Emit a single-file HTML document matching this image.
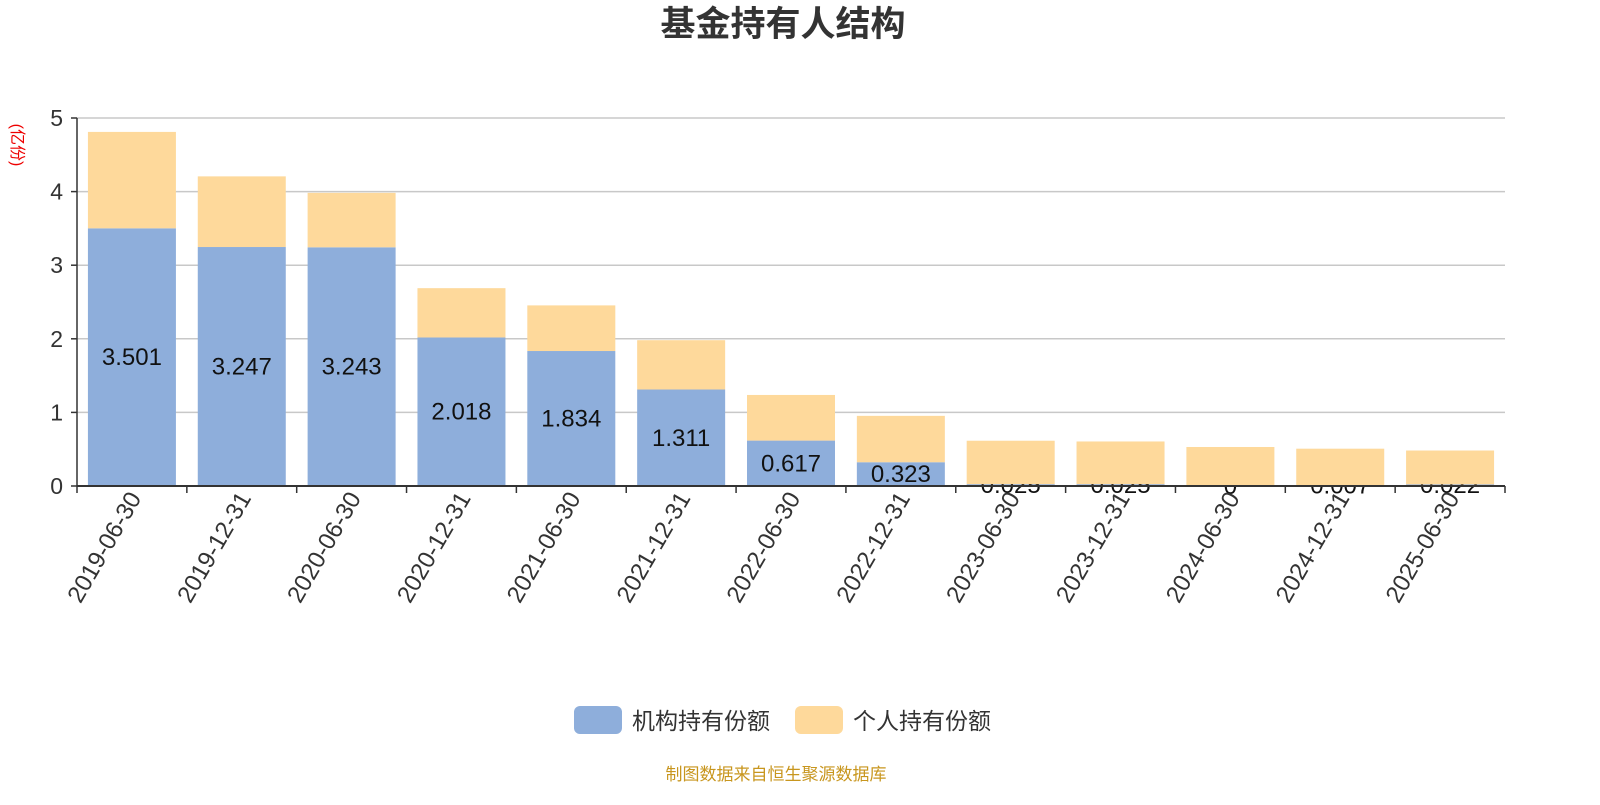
<!DOCTYPE html>
<html><head><meta charset="utf-8"><style>
body{margin:0;background:#fff;}
svg text{font-family:"Liberation Sans","Noto Sans CJK SC",sans-serif;}
</style></head><body>
<svg id="c" width="1600" height="800" xmlns="http://www.w3.org/2000/svg">
<text x="783" y="36" text-anchor="middle" font-size="35" font-weight="bold" fill="#333">基金持有人结构</text>
<text transform="translate(12,145) rotate(90)" text-anchor="middle" font-size="16" fill="#e00">(亿份)</text>
<g id="grid"></g><g id="inst"></g><g id="lbl"></g><g id="indiv"></g><g id="axes"></g>
<g>
<rect x="574" y="706" width="48" height="28" rx="6" fill="#8eaedb"/>
<text x="632" y="729" font-size="23" fill="#333">机构持有份额</text>
<rect x="795" y="706" width="48" height="28" rx="6" fill="#fed99b"/>
<text x="853" y="729" font-size="23" fill="#333">个人持有份额</text>
</g>
<text x="776" y="780" text-anchor="middle" font-size="17" fill="#c8961e">制图数据来自恒生聚源数据库</text>
</svg>
<script>
const categories=["2019-06-30","2019-12-31","2020-06-30","2020-12-31","2021-06-30","2021-12-31","2022-06-30","2022-12-31","2023-06-30","2023-12-31","2024-06-30","2024-12-31","2025-06-30"];
const institution=[3.501,3.247,3.243,2.018,1.834,1.311,0.617,0.323,0.025,0.025,0,0.007,0.022];
const individual=[1.31,0.96,0.74,0.67,0.62,0.67,0.62,0.63,0.59,0.58,0.53,0.50,0.46];
const yTicks=[0,1,2,3,4,5];
const NS="http://www.w3.org/2000/svg";
const x0=77,x1=1505,y0=486,yTop=118,yMax=5;
const bw=(x1-x0)/categories.length;
const Y=v=>y0-(v/yMax)*(y0-yTop);
const X=i=>x0+bw*i+bw/2;
function mk(p,t,a){const e=document.createElementNS(NS,t);for(const k in a)e.setAttribute(k,a[k]);document.getElementById(p).appendChild(e);return e;}
yTicks.forEach(v=>{
 if(v>0){const l=mk('grid','line',{x1:x0,x2:x1,y1:Y(v),y2:Y(v),stroke:'#c8c8c8','stroke-width':1.5});
 
 }
 const tk=mk('axes','line',{x1:x0-6,x2:x0,y1:Y(v),y2:Y(v),stroke:'#333','stroke-width':1.5});
 
 
 const t=mk('axes','text',{x:x0-14,y:Y(v)+8,'text-anchor':'end','font-size':23,fill:'#333'});
 t.textContent=v;
 
 
});
categories.forEach((c,i)=>{
 const w=88,bx=X(i)-w/2;
 const a=institution[i],b=individual[i];
 const r1=mk('inst','rect',{x:bx,y:Y(a),width:w,height:y0-Y(a),fill:'#8eaedb'});
 
 
 const lt=mk('lbl','text',{x:X(i),y:(Y(a)+y0)/2+8,'text-anchor':'middle','font-size':24,fill:'#111'});
 lt.textContent=a;
 
 
 const r2=mk('indiv','rect',{x:bx,y:Y(a+b),width:w,height:Y(a)-Y(a+b),fill:'#fed99b'});
 
 
 const tk=mk('axes','line',{x1:x0+bw*i,x2:x0+bw*i,y1:y0,y2:y0+7,stroke:'#333','stroke-width':1.5});
 
 
 const xt=mk('axes','text',{transform:`translate(${X(i)+10},${y0+12}) rotate(-60)`,'text-anchor':'end','font-size':24,fill:'#333'});
 xt.textContent=c;
 
 
});
const te=mk('axes','line',{x1:x1,x2:x1,y1:y0,y2:y0+7,stroke:'#333','stroke-width':1.5});


const ya=mk('axes','line',{x1:x0,x2:x0,y1:yTop,y2:y0,stroke:'#333','stroke-width':1.5});


const xa=mk('axes','line',{x1:x0,x2:x1,y1:y0,y2:y0,stroke:'#333','stroke-width':2});


</script>
</body></html>
